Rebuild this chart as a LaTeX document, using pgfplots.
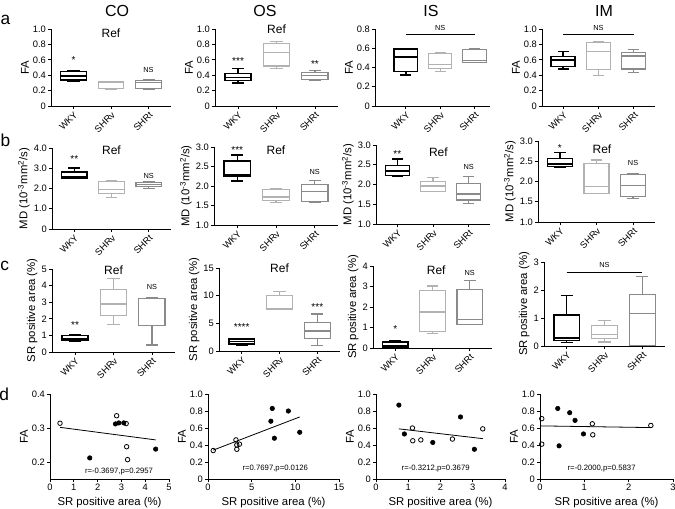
\documentclass[border=0pt]{standalone}
\usepackage{pgfplots}
\pgfplotsset{compat=1.18}
\usepgfplotslibrary{statistics}
\usepackage{fontspec}
\setmainfont{Liberation Sans}
\definecolor{shrv}{RGB}{178,178,178}
\definecolor{shrt}{RGB}{138,138,138}
\pgfplotsset{
  base/.style={scale only axis, axis lines*=left, tick align=outside, major tick length=2.2pt,
    axis line style={line width=0.6pt}, every tick/.style={black,line width=0.6pt},
    tick label style={font=\fontsize{7}{8}\selectfont, inner sep=1.5pt},
    label style={font=\fontsize{8.5}{10}\selectfont},
    ylabel style={yshift=-2pt},
    clip=false, anchor=south west},
  bx/.style={base, xmin=0.4, xmax=3.6, xtick={1,2,3}, xticklabels={WKY,SHRv,SHRt},
    x tick label style={rotate=45, anchor=north east, inner sep=1pt}},
  sc/.style={base},
  W/.style={draw=black, line width=1.1pt, solid},
  V/.style={draw=shrv, line width=0.9pt, solid},
  T/.style={draw=shrt, line width=0.9pt, solid},
  boxplot/draw direction=y,
  boxplot/box extend=0.68, boxplot/whisker extend=0.32,
}
\newcommand\bp[7]{\addplot[#1, boxplot prepared={draw direction=y, draw position=#2, lower whisker=#3, lower quartile=#4, median=#5, upper quartile=#6, upper whisker=#7}] coordinates {};}
\newcommand\st[1]{\fontsize{7.5}{8}\selectfont #1}
\newcommand\ns{\fontsize{5.5}{6}\selectfont NS}
\newcommand\rf{\fontsize{9}{10}\selectfont Ref}
\newcommand\MD{MD (10\textsuperscript{-3}mm\textsuperscript{2}/s)}
\newcommand\SR{SR positive area (\%)}
\begin{document}
\begin{tikzpicture}
\path[use as bounding box] (0,0) rectangle (506.25pt,-381pt);
% titles
\node[font=\fontsize{12}{14}\selectfont] at (87.75pt,-8.25pt) {CO};
\node[font=\fontsize{12}{14}\selectfont] at (198.75pt,-8.25pt) {OS};
\node[font=\fontsize{12}{14}\selectfont] at (323.25pt,-8.25pt) {IS};
\node[font=\fontsize{12}{14}\selectfont] at (453pt,-8.25pt) {IM};
\node[font=\fontsize{13}{15}\selectfont] at (4.1pt,-14.6pt) {a};
\node[font=\fontsize{13}{15}\selectfont] at (4.1pt,-105pt) {b};
\node[font=\fontsize{13}{15}\selectfont] at (3.6pt,-199.5pt) {c};
\node[font=\fontsize{13}{15}\selectfont] at (3.2pt,-296pt) {d};

% ---------- row a ----------
\begin{axis}[bx, at={(38.25pt,-79.5pt)}, width=90pt, height=57.75pt, ymin=0, ymax=1,
  ytick={0,0.2,0.4,0.6,0.8,1}, yticklabels={0,0.2,0.4,0.6,0.8,1.0}, ylabel={FA}]
\bp{W}{1}{0.32}{0.34}{0.39}{0.45}{0.46}
\bp{V}{2}{0.21}{0.225}{0.31}{0.315}{0.318}
\bp{T}{3}{0.21}{0.23}{0.31}{0.33}{0.34}
\node at (axis cs:1,0.60) {\st{*}};
\node at (axis cs:3,0.47) {\ns};
\node at (axis cs:2,0.95) {\rf};
\end{axis}
\begin{axis}[bx, at={(161.25pt,-79.5pt)}, width=92.25pt, height=57.75pt, ymin=0, ymax=1,
  ytick={0,0.2,0.4,0.6,0.8,1}, yticklabels={0,0.2,0.4,0.6,0.8,1.0}, ylabel={FA}]
\bp{W}{1}{0.30}{0.33}{0.37}{0.42}{0.49}
\bp{V}{2}{0.49}{0.52}{0.69}{0.815}{0.835}
\bp{T}{3}{0.335}{0.345}{0.40}{0.44}{0.465}
\node at (axis cs:1,0.58) {\st{***}};
\node at (axis cs:3,0.55) {\st{**}};
\node at (axis cs:2,1.0) {\rf};
\end{axis}
\begin{axis}[bx, at={(281.25pt,-79.5pt)}, width=86.25pt, height=57.75pt, ymin=0, ymax=0.8,
  xmin=0.1, xmax=3.45,
  ytick={0,0.2,0.4,0.6,0.8}, yticklabels={0,0.2,0.4,0.6,0.8}, ylabel={FA}]
\bp{W}{1}{0.32}{0.36}{0.51}{0.59}{0.60}
\bp{V}{2}{0.36}{0.39}{0.43}{0.545}{0.56}
\bp{T}{3}{0.45}{0.455}{0.47}{0.59}{0.60}
\addplot[black, line width=0.6pt] coordinates {(1,0.74) (3,0.74)};
\node at (axis cs:2,0.81) {\ns};
\end{axis}
\begin{axis}[bx, at={(406.5pt,-79.5pt)}, width=84.75pt, height=57.75pt, ymin=0, ymax=1,
  ytick={0,0.2,0.4,0.6,0.8,1}, yticklabels={0,0.2,0.4,0.6,0.8,1.0}, ylabel={FA}]
\bp{W}{1}{0.48}{0.51}{0.60}{0.64}{0.71}
\bp{V}{2}{0.40}{0.47}{0.71}{0.82}{0.84}
\bp{T}{3}{0.43}{0.48}{0.65}{0.69}{0.73}
\addplot[black, line width=0.6pt] coordinates {(1,0.93) (3,0.93)};
\node at (axis cs:2,1.01) {\ns};
\end{axis}

% ---------- row b ----------
\begin{axis}[bx, at={(39pt,-171.75pt)}, width=89.25pt, height=60.75pt, ymin=0, ymax=4,
  ytick={0,1,2,3,4}, yticklabels={0,1.0,2.0,3.0,4.0}, ylabel={\MD}]
\bp{W}{1}{2.5}{2.53}{2.6}{2.82}{3.02}
\bp{V}{2}{1.55}{1.74}{1.97}{2.35}{2.4}
\bp{T}{3}{2.0}{2.08}{2.2}{2.3}{2.35}
\node at (axis cs:1,3.45) {\st{**}};
\node at (axis cs:3,2.63) {\ns};
\node at (axis cs:2,3.9) {\rf};
\end{axis}
\begin{axis}[bx, at={(160.5pt,-168.75pt)}, width=93pt, height=58.5pt, ymin=1, ymax=3,
  ytick={1,1.5,2,2.5,3}, yticklabels={1.0,1.5,2.0,2.5,3.0}, ylabel={\MD}]
\bp{W}{1}{2.13}{2.26}{2.29}{2.64}{2.79}
\bp{V}{2}{1.57}{1.63}{1.72}{1.92}{1.94}
\bp{T}{3}{1.59}{1.61}{1.85}{2.04}{2.15}
\node at (axis cs:1,2.91) {\st{***}};
\node at (axis cs:3,2.36) {\ns};
\node at (axis cs:2,2.92) {\rf};
\end{axis}
\begin{axis}[bx, at={(282pt,-168pt)}, width=85.5pt, height=59.25pt, ymin=1, ymax=3,
  ytick={1,1.5,2,2.5,3}, yticklabels={1.0,1.5,2.0,2.5,3.0}, ylabel={\MD}]
\bp{W}{1}{2.2}{2.23}{2.34}{2.48}{2.65}
\bp{V}{2}{1.82}{1.82}{1.96}{2.08}{2.18}
\bp{T}{3}{1.51}{1.61}{1.76}{2.02}{2.2}
\node at (axis cs:1,2.78) {\st{**}};
\node at (axis cs:3,2.45) {\ns};
\node at (axis cs:2.15,2.83) {\rf};
\end{axis}
\begin{axis}[bx, at={(403.5pt,-166.5pt)}, width=87.75pt, height=60.75pt, ymin=1, ymax=3,
  ytick={1,1.5,2,2.5,3}, yticklabels={1.0,1.5,2.0,2.5,3.0}, ylabel={\MD}]
\bp{W}{1}{2.35}{2.37}{2.43}{2.57}{2.71}
\bp{V}{2}{1.70}{1.70}{1.88}{2.44}{2.53}
\bp{T}{3}{1.59}{1.62}{1.9}{2.17}{2.2}
\node at (axis cs:1,2.83) {\st{*}};
\node at (axis cs:3,2.45) {\ns};
\node at (axis cs:2.15,2.8) {\rf};
\end{axis}

% ---------- row c ----------
\begin{axis}[bx, at={(39pt,-264pt)}, width=92.25pt, height=62.25pt, ymin=0, ymax=5,
  ytick={0,1,2,3,4,5}, yticklabels={0,1,2,3,4,5}, ylabel={\SR}]
\bp{W}{1}{0.66}{0.72}{0.82}{1.0}{1.05}
\bp{V}{2}{1.67}{2.21}{2.89}{3.78}{4.44}
\bp{T}{3}{0.42}{1.6}{3.2}{3.24}{3.26}
\node at (axis cs:1,1.65) {\st{**}};
\node at (axis cs:3,3.9) {\ns};
\node at (axis cs:2,4.95) {\rf};
\end{axis}
\begin{axis}[bx, at={(164.25pt,-263.25pt)}, width=90.75pt, height=62.25pt, ymin=0, ymax=15,
  ytick={0,5,10,15}, yticklabels={0,5,10,15}, ylabel={\SR}]
\bp{W}{1}{1.0}{1.3}{1.7}{2.2}{2.3}
\bp{V}{2}{7.5}{7.6}{7.7}{10.0}{10.7}
\bp{T}{3}{1.0}{2.2}{3.6}{5.1}{6.7}
\node at (axis cs:1,4.3) {\st{****}};
\node at (axis cs:3,7.9) {\st{***}};
\node at (axis cs:2,14.9) {\rf};
\end{axis}
\begin{axis}[bx, at={(279.75pt,-261pt)}, width=89.25pt, height=61.5pt, ymin=0, ymax=4,
  ytick={0,1,2,3,4}, yticklabels={0,1,2,3,4}, ylabel={\SR}]
\bp{W}{1}{0.05}{0.05}{0.13}{0.29}{0.35}
\bp{V}{2}{0.71}{0.81}{1.76}{2.82}{3.02}
\bp{T}{3}{1.13}{1.16}{1.40}{2.85}{3.3}
\node at (axis cs:1,0.9) {\st{*}};
\node at (axis cs:3,3.66) {\ns};
\node at (axis cs:2.1,3.8) {\rf};
\end{axis}
\begin{axis}[bx, at={(408pt,-259.5pt)}, width=90.75pt, height=63pt, ymin=0, ymax=3,
  ytick={0,1,2,3}, yticklabels={0,1,2,3}, ylabel={\SR}]
\bp{W}{1}{0.12}{0.2}{0.29}{1.10}{1.8}
\bp{V}{2}{0.14}{0.26}{0.42}{0.72}{0.92}
\bp{T}{3}{0.02}{0.03}{1.16}{1.85}{2.48}
\addplot[black, line width=0.6pt] coordinates {(1,2.64) (3,2.64)};
\node at (axis cs:2,2.9) {\ns};
\end{axis}

% ---------- row d ----------
\begin{axis}[sc, at={(37.5pt,-359.25pt)}, width=89.25pt, height=63.75pt,
  xmin=0, xmax=5, xtick={0,1,2,3,4,5}, xticklabels={0,1,2,3,4,5},
  ymin=0.15, ymax=0.4, ytick={0.2,0.3,0.4}, yticklabels={0.2,0.3,0.4},
  ylabel={FA}, xlabel={\SR}]
\addplot[black, line width=0.6pt] coordinates {(0.42,0.302) (4.44,0.265)};
\addplot[only marks, mark=*, mark size=1.7pt, black] coordinates {(1.67,0.212) (2.75,0.312) (2.89,0.315) (3.1,0.315) (4.44,0.238)};
\addplot[only marks, mark=o, mark size=1.7pt, black, mark options={fill=white, line width=0.6pt}] coordinates {(0.42,0.314) (2.8,0.336) (3.2,0.313) (3.22,0.245) (3.26,0.207)};
\node[font=\fontsize{5.8}{7}\selectfont] at (axis cs:2.9,0.172) {r=-0.3697,p=0.2957};
\end{axis}
\begin{axis}[sc, at={(156pt,-359.25pt)}, width=98.25pt, height=63.75pt,
  xmin=0, xmax=15, xtick={0,5,10,15}, xticklabels={0,5,10,15},
  ymin=0, ymax=1, ytick={0,0.2,0.4,0.6,0.8,1}, yticklabels={0,0.2,0.4,0.6,0.8,1.0},
  ylabel={FA}, xlabel={\SR}]
\addplot[black, line width=0.6pt] coordinates {(0.6,0.34) (10.5,0.73)};
\addplot[only marks, mark=*, mark size=1.7pt, black] coordinates {(7.36,0.83) (7.2,0.68) (7.6,0.48) (9.2,0.80) (10.5,0.55)};
\addplot[only marks, mark=o, mark size=1.7pt, black, mark options={fill=white, line width=0.6pt}] coordinates {(0.6,0.335) (3.2,0.46) (3.3,0.40) (3.3,0.35) (3.6,0.41)};
\node[font=\fontsize{5.8}{7}\selectfont] at (axis cs:7.7,0.12) {r=0.7697,p=0.0126};
\end{axis}
\begin{axis}[sc, at={(282pt,-359.25pt)}, width=96.75pt, height=63.75pt,
  xmin=0, xmax=4, xtick={0,1,2,3,4}, xticklabels={0,1,2,3,4},
  ymin=0, ymax=1, ytick={0,0.2,0.4,0.6,0.8,1}, yticklabels={0,0.2,0.4,0.6,0.8,1.0},
  ylabel={FA}, xlabel={\SR}]
\addplot[black, line width=0.6pt] coordinates {(0.71,0.59) (3.31,0.475)};
\addplot[only marks, mark=*, mark size=1.7pt, black] coordinates {(0.71,0.87) (0.88,0.53) (1.76,0.43) (2.62,0.73) (3.05,0.35)};
\addplot[only marks, mark=o, mark size=1.7pt, black, mark options={fill=white, line width=0.6pt}] coordinates {(1.13,0.60) (1.14,0.45) (1.39,0.46) (2.37,0.47) (3.31,0.59)};
\node[font=\fontsize{5.8}{7}\selectfont] at (axis cs:1.85,0.12) {r=-0.3212,p=0.3679};
\end{axis}
\begin{axis}[sc, at={(405pt,-359.25pt)}, width=99.75pt, height=63.75pt,
  xmin=0, xmax=3, xtick={0,1,2,3}, xticklabels={0,1,2,3},
  ymin=0, ymax=1, ytick={0,0.2,0.4,0.6,0.8,1}, yticklabels={0,0.2,0.4,0.6,0.8,1.0},
  ylabel={FA}, xlabel={\SR}]
\addplot[black, line width=0.6pt] coordinates {(0,0.625) (2.5,0.605)};
\addplot[only marks, mark=*, mark size=1.7pt, black] coordinates {(0.40,0.83) (0.67,0.78) (0.79,0.69) (0.43,0.39) (0.98,0.53)};
\addplot[only marks, mark=o, mark size=1.7pt, black, mark options={fill=white, line width=0.6pt}] coordinates {(0.04,0.71) (0.04,0.41) (1.18,0.65) (1.19,0.52) (2.5,0.63)};
\node[font=\fontsize{5.8}{7}\selectfont] at (axis cs:1.39,0.12) {r=-0.2000,p=0.5837};
\end{axis}
\end{tikzpicture}
\end{document}
